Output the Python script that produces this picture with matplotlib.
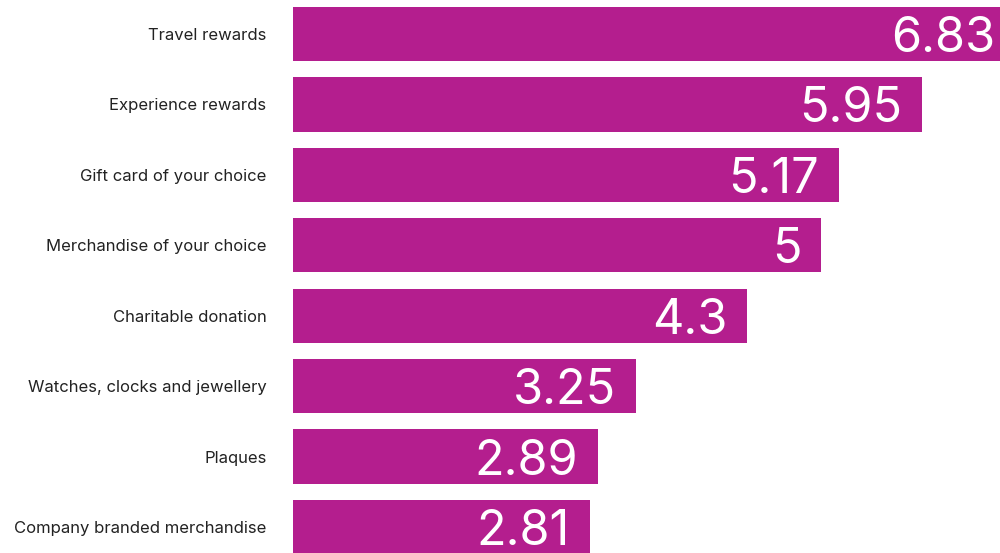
import matplotlib.pyplot as plt

categories = ['Travel rewards', 'Experience rewards', 'Gift card of your choice',
              'Merchandise of your choice', 'Charitable donation',
              'Watches, clocks and jewellery', 'Plaques', 'Company branded merchandise']
values = [6.83, 5.95, 5.17, 5, 4.3, 3.25, 2.89, 2.81]
value_labels = ['6.83', '5.95', '5.17', '5', '4.3', '3.25', '2.89', '2.81']

bar_color = '#b41e8e'
font = ['Inter', 'DejaVu Sans']

fig = plt.figure(figsize=(10, 5.53), dpi=100)
ax = fig.add_axes([0.293, 0, 0.707, 1])

ypos = list(range(len(categories)))
ax.barh(ypos, values, height=0.77, color=bar_color)

ax.set_xlim(0, 6.69)
ax.set_ylim(7.37, -0.483)

for y, v, lab in zip(ypos, values, value_labels):
    ax.annotate(lab, xy=(v, y), xytext=(-20, -5), textcoords='offset pixels',
                ha='right', va='center', color='white', fontsize=35,
                family=font, annotation_clip=False)

ax.set_yticks(ypos)
ax.set_yticklabels(categories, fontsize=12, color='#222222', family=font)
ax.tick_params(axis='y', length=0, pad=19)
ax.set_xticks([])
for s in ax.spines.values():
    s.set_visible(False)

fig.savefig('out.png', dpi=100)
